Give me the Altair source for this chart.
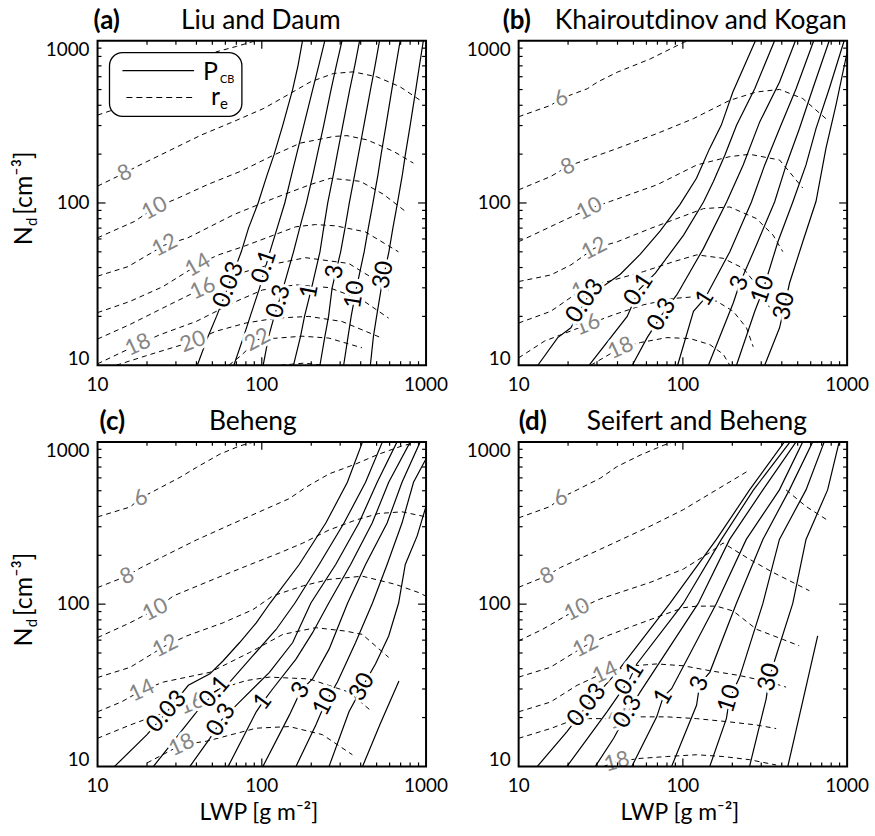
import altair as alt
import pandas as pd

FONT = "Lato"
W, H = 330, 326
GRAY = "#858585"

AXIS_VALUES = [10, 100, 1000]
MINOR_TICKS = [20, 30, 40, 50, 60, 70, 80, 90, 200, 300, 400, 500, 600, 700, 800, 900]
MAJOR_TICKS = [100]

# ---------------- (a) Liu and Daum ----------------
A_PCB = {
    "0.03": [(177, 1000), (166, 700), (154, 500), (134, 300), (119, 200), (108, 150), (95, 100), (83, 70), (75, 50), (62, 30), (53, 20), (47, 15), (40.5, 10)],
    "0.1": [(242, 1000), (222, 700), (204, 500), (180, 300), (163, 200), (152, 150), (138, 100), (124, 70), (112, 50), (97, 30), (85, 20), (77.5, 15), (67.6, 10)],
    "0.3": [(308, 1000), (284, 700), (264, 500), (238, 300), (218, 200), (205, 150), (187, 100), (170, 70), (156, 50), (135, 30), (119, 20), (110, 15), (102, 10)],
    "1": [(394, 1000), (368, 700), (343, 500), (311, 300), (288, 200), (273, 150), (252, 100), (238, 70), (226, 50), (201, 30), (182, 20), (172, 15), (156, 10)],
    "3": [(521, 1000), (489, 700), (459, 500), (418, 300), (388, 200), (368, 150), (341, 100), (321, 70), (302, 50), (268, 30), (255, 20), (242, 15), (226, 10)],
    "10": [(696, 1000), (655, 700), (619, 500), (570, 300), (533, 200), (510, 150), (475, 100), (445, 70), (420, 50), (377, 30), (350, 20), (335, 15), (315, 10)],
    "30": [(963, 1000), (911, 700), (866, 500), (800, 300), (749, 200), (718, 150), (670, 100), (628, 70), (594, 50), (534, 30), (500, 20), (478, 15), (458, 10)],
}
A_PCB_LABELS = [("0.03", 63, 31.3), ("0.1", 104, 40.5), ("0.3", 127, 24.7), ("1", 196, 28.5),
                ("3", 280, 37.7), ("10", 369, 27.2), ("30", 552, 36)]
A_RE = {
    "6": [(10, 348), (14, 390), (20, 450), (30, 560), (42, 720), (52.6, 853), (70, 922), (92, 1000)],
    "8": [(10, 127), (14.6, 153), (17.6, 169), (26.8, 208), (42.7, 262), (67.6, 318), (103, 383), (143, 462), (198, 558), (273, 628), (361, 643), (502, 599), (695, 520), (919, 430)],
    "10": [(10, 61), (16.8, 77), (22.2, 93), (30.8, 107), (46.9, 130), (74.6, 157), (119, 198), (172, 234), (274, 257), (330, 260), (437, 245), (634, 208), (837, 176)],
    "12": [(10, 35.4), (15.3, 40.5), (25.6, 55), (35.5, 61), (67.9, 85), (119, 107), (198, 130), (262, 142), (398, 136), (551, 113), (746, 89)],
    "14": [(10, 21.1), (15.7, 24.7), (25, 30.5), (40.7, 41.5), (53.9, 47.7), (76.4, 53.7), (110.7, 61.8), (160.7, 71.3), (212, 73.6), (280.6, 72.3), (426.6, 66.4), (679, 50)],
    "16": [(10, 14.5), (15.7, 17.8), (27.4, 23.6), (43.7, 29.8), (72.9, 36.8), (110.7, 41.5), (184.9, 46), (338, 42.4), (514, 32.7), (592, 29.1)],
    "18": [(10, 10.2), (17.6, 13.4), (23.9, 15.4), (39.8, 18.6), (69.5, 24.7), (101, 29.1), (160.7, 31.3), (256, 30.1), (407.6, 25.3), (592, 19.5)],
    "20": [(13, 10), (21.2, 11.7), (38, 14), (52.6, 16.2), (80, 18.2), (121.7, 19.5), (193.6, 20), (308, 18.6), (539, 14.7)],
    "22": [(63, 10), (75, 11.5), (94.2, 14.4), (124.5, 14.7), (176, 15.1), (256, 14.7), (407.6, 12.8)],
    "24": [(130, 10), (180, 10.3), (240, 10)],
}
A_RE_LABELS = [("8", 14.6, 153), ("10", 22.2, 93), ("12", 25.6, 55), ("14", 40.7, 41.5),
               ("16", 43.7, 29.8), ("18", 17.6, 13.4), ("20", 38, 14), ("22", 94.2, 14.4)]

# ---------------- (b) Khairoutdinov and Kogan ----------------
B_PCB = {
    "0.03": [(276.5, 1000), (201.5, 483), (171.4, 302), (145.6, 217), (121, 142), (95.9, 97.6), (72.6, 67.1), (54.9, 48.2), (41.6, 36.4), (26.2, 26.2), (20.8, 17), (17.3, 14.8), (13.1, 10)],
    "0.1": [(361.7, 1000), (273.8, 506), (212.2, 301.7), (180.3, 197.6), (153.4, 135.8), (133.5, 101.4), (101, 63.4), (68, 36.9), (54, 29.2), (45.8, 20), (26.9, 10)],
    "0.3": [(484.6, 1000), (387.8, 556), (293.6, 316), (232.9, 171.6), (184.6, 101.4), (133.5, 52.5), (92, 27.2), (74.6, 20.5), (60.6, 14.8), (49.2, 10)],
    "1": [(626, 1000), (489, 506), (388, 288), (315, 171.6), (261.5, 101.4), (193.2, 50.1), (136.4, 25.9), (116, 21.5), (92.9, 10)],
    "3": [(778, 1000), (617.6, 506), (512.5, 288), (425.7, 171.6), (361.7, 101.4), (280.4, 55.1), (222.2, 32), (202.6, 24.2), (143, 10)],
    "10": [(959, 1000), (778, 506), (647, 288), (562, 171.6), (467, 101.4), (379, 57.7), (308, 29.2), (274, 21.5), (212, 10)],
    "30": [(1000, 849), (854.5, 400), (743, 217), (646.8, 102.4), (537, 57.7), (445.7, 32), (415.9, 23.1), (387.8, 17), (314.8, 10)],
}
B_PCB_LABELS = [("0.03", 25.4, 24.8), ("0.1", 54, 29.2), ("0.3", 74.6, 20.5), ("1", 136.4, 25.9),
                ("3", 222.2, 32), ("10", 307.7, 29.2), ("30", 415.9, 23.1)]
B_RE = {
    "6": [(10, 340), (15.7, 400), (18.1, 440), (26.2, 506), (30.2, 556), (39.9, 640), (63.4, 773), (101, 977), (108, 1000)],
    "8": [(10, 120.5), (15.7, 145.7), (19.9, 168), (23.9, 180), (39.9, 217), (69.7, 268), (116, 331), (193, 429), (280, 483), (388, 501), (537, 440), (761, 324)],
    "10": [(10, 57.7), (18.1, 76.6), (26.9, 92.3), (36.3, 102.4), (69.7, 129.5), (121.7, 171.6), (193, 193), (255, 199.6), (388, 184), (537, 123.6)],
    "12": [(10, 32.8), (15.7, 36), (20.8, 41.5), (28.8, 52.5), (39.9, 57.7), (63.4, 69.6), (92, 80.2), (133.5, 92.3), (193, 94.5), (280, 80.2), (354, 63.4), (406, 50.1)],
    "14": [(10, 18.2), (15.7, 21.5), (25.1, 29.9), (38.1, 33.6), (57.8, 37.8), (87.9, 43.5), (121.7, 47.9), (176, 45.6), (233, 39.6), (290, 30), (336, 22.8)],
    "16": [(10, 11.1), (14.4, 14.1), (26.2, 17.8), (38.1, 20.5), (57.8, 23.6), (87.9, 25.8), (121.7, 26.5), (160.7, 24.8), (202.6, 21.5), (244, 17), (268, 13)],
    "18": [(27.5, 10), (41.7, 12.8), (55.2, 13.8), (80, 14.8), (110.6, 14.6), (146, 13.4), (176, 11.7), (193, 10)],
}
B_RE_LABELS = [("6", 18.1, 440), ("8", 19.9, 168), ("10", 26.9, 92.3), ("12", 28.8, 52.5),
               ("14", 25.1, 29.9), ("16", 26.2, 17.8), ("18", 41.7, 12.8)]

# ---------------- (c) Beheng ----------------
C_PCB = {
    "0.03": [(410.6, 1000), (331.9, 564), (245.3, 316), (169, 175.5), (112.4, 101.6), (92.5, 76.7), (73.3, 58), (58.2, 44.8), (48.3, 37.2), (35.7, 31.6), (26.4, 21.7), (20, 15.7), (12.7, 10)],
    "0.1": [(542.6, 1000), (428.2, 564), (316.5, 316), (223.4, 175.5), (159.2, 101.6), (122.2, 69.8), (88.3, 48.1), (63.8, 33.1), (51.8, 28.7), (40.1, 21.7), (21.9, 10)],
    "0.3": [(665.8, 1000), (504, 564), (390, 316), (281.8, 175.5), (199, 101.6), (154.2, 58), (111.3, 38), (73.3, 25), (56.8, 19.3), (48.3, 14.9), (36.5, 10)],
    "1": [(801.4, 1000), (592.4, 564), (470, 316), (347.4, 175.5), (255.7, 101.6), (203.8, 66.7), (161.5, 45.8), (116.7, 30.1), (101.6, 25), (92.5, 21.7), (62.4, 10)],
    "3": [(921, 1000), (713.9, 564), (579.3, 316), (428.2, 175.5), (333.2, 101.6), (256.8, 52.8), (203.8, 34.6), (173.1, 29.4), (147.1, 20.7), (101.6, 10)],
    "10": [(1000, 787), (839, 564), (713.9, 316), (579.3, 175.5), (472, 101.6), (372.4, 58), (288.7, 33.1), (245.3, 25), (213.3, 18), (161.5, 10)],
    "30": [(1000, 401), (883, 263.5), (747.4, 175.5), (680.8, 101.6), (592.4, 63.7), (492, 42.8), (408.9, 30.8), (339.4, 21.7), (256.8, 10)],
    "100": [(410.6, 10), (527, 18.4), (684, 33.6)],
}
C_PCB_LABELS = [("0.03", 26.4, 21.7), ("0.1", 51.8, 28.7), ("0.3", 56.8, 19.3), ("1", 101.6, 25),
                ("3", 173.1, 29.4), ("10", 245.3, 25), ("30", 408.9, 30.8)]
C_RE = {
    "6": [(10, 345), (15.8, 397), (18.3, 451), (22.4, 502), (31.8, 605), (40.1, 697), (55.5, 840), (73.3, 944), (90, 1000)],
    "8": [(10, 126.5), (15.1, 149), (18.3, 167.5), (25.2, 197), (40.1, 249), (63.8, 307.5), (101.6, 379), (147, 447), (186, 526), (256.8, 635), (372.4, 730), (515, 840), (713.9, 944), (859, 990)],
    "10": [(10, 62.2), (15.8, 76.8), (22.4, 92.5), (29, 112.5), (50.6, 142), (80.3, 171.5), (128.1, 206.8), (177.5, 237.7), (256.8, 286.4), (372.4, 329.6), (515, 362), (713.9, 370.7), (1000, 345)],
    "12": [(10, 35.3), (15.8, 40.8), (25.8, 55.3), (34.9, 63.7), (58.2, 76.8), (88.3, 92.5), (116.6, 112.5), (180, 130), (256.8, 142), (409, 148.7), (650, 132.5), (899, 118), (1000, 112)],
    "14": [(10, 21.7), (14, 25), (18.6, 29.4), (25.2, 33.1), (48.3, 38), (84.5, 50.4), (134.4, 65.1), (213, 71.6), (323.9, 68.2), (409, 65.1), (592, 47)],
    "16": [(10, 14.9), (15.8, 18), (23, 20.7), (37.4, 24.4), (55.5, 30.1), (80.3, 33.8), (111.3, 35.5), (194.4, 34.6), (339.4, 28.7), (470, 21.7)],
    "18": [(20, 10.5), (32.5, 13.6), (46.1, 14.3), (92.5, 17.2), (147, 17.6), (233.7, 15.7), (356, 11.8)],
}
C_RE_LABELS = [("6", 18.3, 451), ("8", 15.1, 149), ("10", 22.4, 92.5), ("12", 25.8, 55.3),
               ("14", 18.6, 29.4), ("16", 37.4, 24.4), ("18", 32.5, 13.6)]

# ---------------- (d) Seifert and Beheng ----------------
D_PCB = {
    "0.03": [(415, 1000), (254.7, 506), (160, 250.6), (83.4, 101), (39.6, 38), (26.1, 23.8), (19.7, 16.4), (13, 10)],
    "0.1": [(449.6, 1000), (269.2, 506), (171.6, 250.6), (100.6, 101), (52.4, 42.8), (47.5, 34.6), (34.5, 21.7), (19.7, 10)],
    "0.3": [(488.7, 1000), (307, 506), (192.6, 250.6), (124, 101), (54.9, 28.7), (46.4, 21.7), (37.9, 14.9), (29.3, 10)],
    "1": [(536.6, 1000), (387, 506), (243.2, 250.6), (160, 101), (85.4, 30.1), (76, 26.8), (69.3, 20.2), (48.9, 10)],
    "3": [(617, 1000), (445.2, 506), (307, 250.6), (211.6, 101), (145.8, 38), (126.8, 32.3), (121.1, 23.8), (85.4, 10)],
    "10": [(725.5, 1000), (561.9, 506), (387, 250.6), (307, 101), (221.6, 35.5), (192.6, 26.1), (184, 19.7), (145.8, 10)],
    "30": [(894.4, 1000), (760.7, 506), (561.9, 250.6), (466.7, 101), (369.7, 48.1), (336.5, 35.5), (321.4, 26.1), (254.7, 10)],
    "100": [(435.5, 10), (661.8, 63.7)],
}
D_PCB_LABELS = [("0.03", 26.1, 23.8), ("0.1", 47.5, 34.6), ("0.3", 46.4, 21.7), ("1", 76, 26.8),
                ("3", 126.8, 32.3), ("10", 192.6, 26.1), ("30", 336.5, 35.5)]
D_RE = {
    "6": [(10, 340), (15.6, 400), (18, 451), (22.7, 506), (31.4, 597), (39.6, 703), (54.9, 828), (76, 952), (87.4, 1000)],
    "8": [(10, 127), (14.9, 149.6), (18, 168.3), (31.4, 217.8), (63.1, 302), (100.6, 382), (160, 506), (254.7, 670.6)],
    "8b": [(425, 506), (562, 400), (778, 324)],
    "10": [(10, 59.4), (14, 70), (22.6, 92.7), (31.4, 107.7), (63.1, 136), (100.6, 164.4), (145.8, 208), (175.9, 238), (254.7, 189), (353, 157), (589, 121)],
    "12": [(10, 35.5), (15.6, 40.8), (25.5, 55.4), (34.5, 63.7), (50, 73.5), (72.5, 84.4), (100.6, 95), (121, 97.2), (160, 97.2), (202.6, 90.7), (280.5, 70), (405, 60.7), (510.5, 55.4)],
    "14": [(10, 21.7), (15.6, 24.9), (22.7, 31.6), (33.6, 38), (50, 41.7), (69.3, 42.8), (100.6, 41.7), (145.8, 38.9), (221.6, 36.3), (336.5, 33.1), (425, 30.8)],
    "16": [(10, 14.9), (15.6, 17.1), (22.7, 19.7), (41.5, 19.7), (54.9, 20.2), (79.6, 20.2), (121.1, 19.7), (192.6, 18.8), (280.5, 18), (369.7, 17.1)],
    "18": [(33, 10), (39.6, 10.7), (54.9, 11.2), (79.6, 11.5), (121.1, 11.8), (176, 11.5), (254.7, 11), (369.7, 10.2)],
}
D_RE_LABELS = [("6", 18, 451), ("8", 14.9, 149.6), ("10", 22.6, 92.7), ("12", 25.5, 55.4),
               ("14", 33.6, 38), ("16", 41.5, 19.7), ("18", 39.6, 10.7)]

# label rotation angles (degrees, clockwise) -- styling
A_PCB_ANG = [291, 288, 287, 281, 279, 279, 280]
B_PCB_ANG = [305, 303, 300, 302, 292, 289, 283]
C_PCB_ANG = [312, 310, 302, 306, 303, 297, 299]
D_PCB_ANG = [308, 302, 300, 300, 292, 287, 283]
A_RE_ANG = [334, 332, 333, 330, 336, 335, 340, 332]
B_RE_ANG = [335, 335, 333, 333, 335, 338, 335]
C_RE_ANG = [335, 335, 333, 333, 335, 338, 335]
D_RE_ANG = [335, 335, 333, 333, 335, 338, 345]

xsc = alt.Scale(type="log", domain=[10, 1000], nice=False)
ysc = alt.Scale(type="log", domain=[10, 1000], nice=False)
ONE = pd.DataFrame({"k": [0]})


def X(field):
    return alt.X(field, scale=xsc, axis=None)


def Y(field):
    return alt.Y(field, scale=ysc, axis=None)


def contour_df(d):
    rows = []
    for name, pts in d.items():
        for i, (lwp, nd) in enumerate(pts):
            rows.append({"level": name, "idx": i, "lwp": lwp, "nd": nd})
    return pd.DataFrame(rows)


def label_df(labels, angles):
    return pd.DataFrame({"text": [t for t, _, _ in labels],
                         "lwp": [l for _, l, _ in labels],
                         "nd": [n for _, _, n in labels],
                         "ang": angles})


def text_layers(df, size, color, halo):
    enc = dict(x=X("lwp:Q"), y=Y("nd:Q"), text="text:N", angle=alt.Angle("ang:Q", scale=None))
    h = alt.Chart(df).mark_text(font=FONT, fontSize=size, fill="white", stroke="white",
                                strokeWidth=halo, strokeJoin="round").encode(**enc)
    t = alt.Chart(df).mark_text(font=FONT, fontSize=size, fill=color).encode(**enc)
    return [h, t]


def tick_layers():
    out = []
    for vals, ln in [(MINOR_TICKS, 4), (MAJOR_TICKS, 8)]:
        df = pd.DataFrame({"v": vals})
        base = alt.Chart(df).mark_rule(color="black", strokeWidth=1.2)
        out.append(base.encode(x=X("v:Q"), y=alt.value(H), y2=alt.value(H - ln)))
        out.append(base.encode(x=X("v:Q"), y=alt.value(0), y2=alt.value(ln)))
        out.append(base.encode(y=Y("v:Q"), x=alt.value(0), x2=alt.value(ln)))
        out.append(base.encode(y=Y("v:Q"), x=alt.value(W), x2=alt.value(W - ln)))
    return out


def tick_label_layers():
    size = 19
    df = pd.DataFrame({"v": AXIS_VALUES, "s": [str(v) for v in AXIS_VALUES]})
    out = [alt.Chart(df).mark_text(font=FONT, fontSize=size, color="black", align="center", baseline="top").encode(
        x=X("v:Q"), y=alt.value(H + 11), text="s:N")]
    for val, base in [(10, "alphabetic"), (100, "middle"), (1000, "top")]:
        sub = df[df["v"] == val]
        out.append(alt.Chart(sub).mark_text(font=FONT, fontSize=size, color="black", align="right",
                                            baseline=base).encode(y=Y("v:Q"), x=alt.value(-8), text="s:N"))
    return out


def txt(x, y, s, size, **kw):
    return alt.Chart(ONE).mark_text(font=FONT, fontSize=size, color="black", **kw).encode(
        x=alt.value(x), y=alt.value(y), text=alt.value(s))


def legend_layers():
    box = alt.Chart(ONE).mark_rect(fill="white", stroke="black", strokeWidth=1.3, cornerRadius=13).encode(
        x=alt.value(12), x2=alt.value(145), y=alt.value(12), y2=alt.value(76))
    l1 = alt.Chart(ONE).mark_rule(color="black", strokeWidth=1.3).encode(
        x=alt.value(25), x2=alt.value(97), y=alt.value(30))
    l2 = alt.Chart(ONE).mark_rule(color="black", strokeWidth=1.1, strokeDash=[6, 4]).encode(
        x=alt.value(29), x2=alt.value(97), y=alt.value(57))
    return [box, l1, l2,
            txt(106, 39, "P", 25, align="left", baseline="alphabetic"),
            txt(123, 42, "CB", 11, align="left", baseline="alphabetic"),
            txt(114, 65, "r", 25, align="left", baseline="alphabetic"),
            txt(123, 69, "e", 15, align="left", baseline="alphabetic")]


def panel(pcb, pcb_lab, pcb_ang, re_, re_lab, re_ang, letter, title, letter_x, title_x,
          left_col, bottom_row, legend=False):
    dashed = alt.Chart(contour_df(re_)).mark_line(color="black", strokeWidth=1.0, strokeDash=[5, 4],
                                                   clip=True).encode(
        x=X("lwp:Q"), y=Y("nd:Q"), detail="level:N", order="idx:Q")
    solid = alt.Chart(contour_df(pcb)).mark_line(color="black", strokeWidth=1.2, clip=True).encode(
        x=X("lwp:Q"), y=Y("nd:Q"), detail="level:N", order="idx:Q")
    layers = [dashed, solid]
    layers += text_layers(label_df(re_lab, re_ang), 22, GRAY, 6)
    layers += text_layers(label_df(pcb_lab, pcb_ang), 24, "black", 6)
    layers += tick_layers()
    layers += tick_label_layers()
    layers.append(alt.Chart(ONE).mark_rect(fillOpacity=0, stroke="black", strokeWidth=2).encode(
        x=alt.value(0), x2=alt.value(W), y=alt.value(0), y2=alt.value(H)))
    if legend:
        layers += legend_layers()
    layers.append(txt(letter_x, -12, letter, 26, align="left", baseline="alphabetic", fontWeight="bold"))
    layers.append(txt(title_x, -12, title, 26.5, align="center", baseline="alphabetic"))
    if left_col:
        # y-axis title "N_d [cm^-3]" in rotated pieces, each centred on its own position
        layers.append(txt(-66, 196, "N", 25, align="center", baseline="alphabetic", angle=270))
        layers.append(txt(-61, 182, "d", 15, align="center", baseline="alphabetic", angle=270))
        layers.append(txt(-66, 143, "[cm\u207b\u00b3]", 25, align="center", baseline="alphabetic", angle=270))
    if bottom_row:
        layers.append(txt(162, H + 54, "LWP [g m\u207b\u00b2]", 23, align="center", baseline="alphabetic"))
    return alt.layer(*layers).properties(width=W, height=H)


pa = panel(A_PCB, A_PCB_LABELS, A_PCB_ANG, A_RE, A_RE_LABELS, A_RE_ANG, "(a)", "Liu and Daum", -4, 164,
           True, False, legend=True)
pb = panel(B_PCB, B_PCB_LABELS, B_PCB_ANG, B_RE, B_RE_LABELS, B_RE_ANG, "(b)", "Khairoutdinov and Kogan", -16, 183,
           False, False)
pc = panel(C_PCB, C_PCB_LABELS, C_PCB_ANG, C_RE, C_RE_LABELS, C_RE_ANG, "(c)", "Beheng", 2, 156,
           True, True)
pd_ = panel(D_PCB, D_PCB_LABELS, D_PCB_ANG, D_RE, D_RE_LABELS, D_RE_ANG, "(d)", "Seifert and Beheng", 0, 179,
            False, True)

chart = alt.concat(pa, pb, pc, pd_, columns=2, spacing={"row": 77, "column": 93}, bounds="flush").configure(
    padding={"left": 12, "top": 6, "right": 5, "bottom": 5}, background="white"
).configure_view(strokeWidth=0)

chart.save("out.html", embed_options={"renderer": "svg", "actions": False})
